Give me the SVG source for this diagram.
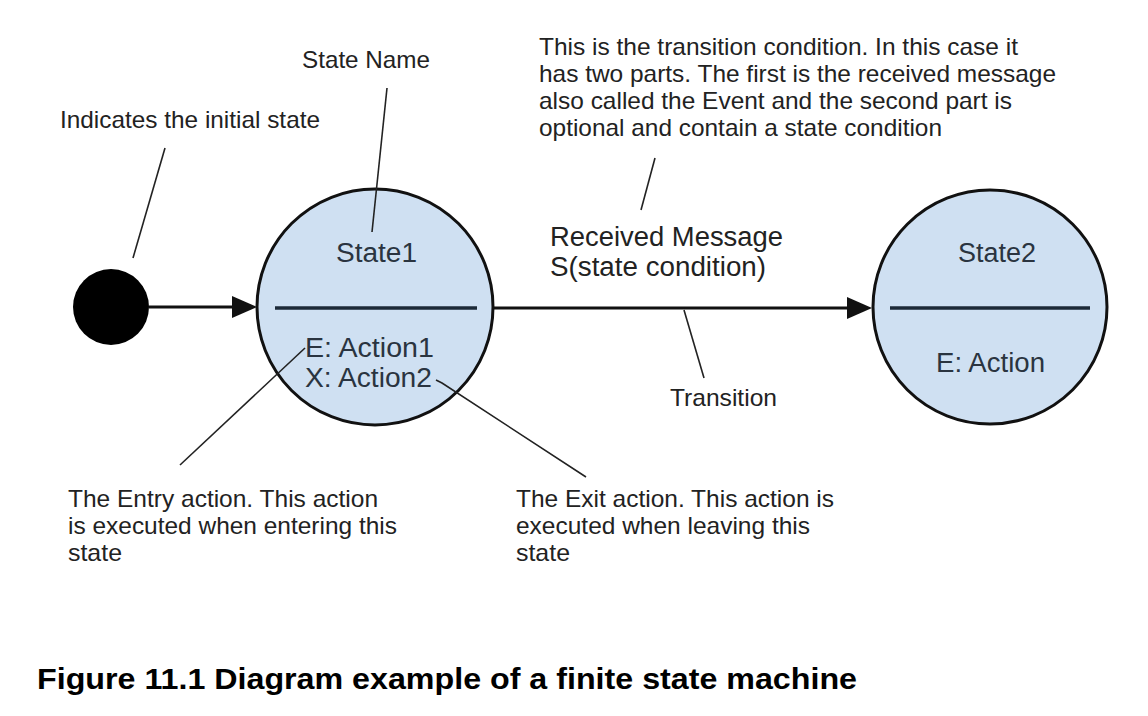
<svg xmlns="http://www.w3.org/2000/svg" width="1148" height="716" viewBox="0 0 1148 716">
<style>
.note{font-family:"Liberation Sans",Arial,sans-serif;font-size:24px;fill:#222}
.lbl{font-family:"Liberation Sans",Arial,sans-serif;font-size:27px;fill:#2a3440}
.msg{font-family:"Liberation Sans",Arial,sans-serif;font-size:27px;fill:#222}
.state{fill:#cfe0f2;stroke:#111;stroke-width:3}
.div{stroke:#1c2a38;stroke-width:3.5}
.lead{stroke:#222;stroke-width:1.6;fill:none}
.edge{stroke:#111;stroke-width:3;fill:none}
.head{fill:#111}
</style>
<rect width="1148" height="716" fill="#fff"/>
<g id="connectors">
<line class="edge" x1="149" y1="307" x2="240" y2="307"/>
<path class="head" d="M232,296 L257,307 L232,318 z"/>
<line class="edge" x1="493" y1="308" x2="855" y2="308"/>
<path class="head" d="M847,297 L872,308 L847,319 z"/>
</g>
<g id="initial">
<circle cx="111" cy="307" r="38" fill="#000"/>
</g>
<g id="state1">
<circle class="state" cx="375" cy="307" r="118"/>
<line class="div" x1="275" y1="308" x2="477" y2="308"/>
<text class="lbl" x="336" y="262" textLength="81" lengthAdjust="spacingAndGlyphs">State1</text>
<text class="lbl" x="305" y="357" textLength="129" lengthAdjust="spacingAndGlyphs">E: Action1</text>
<text class="lbl" x="305" y="387" textLength="127" lengthAdjust="spacingAndGlyphs">X: Action2</text>
</g>
<g id="state2">
<circle class="state" cx="990" cy="307" r="117"/>
<line class="div" x1="890" y1="308" x2="1090" y2="308"/>
<text class="lbl" x="958" y="262" textLength="78" lengthAdjust="spacingAndGlyphs">State2</text>
<text class="lbl" x="936" y="372" textLength="109" lengthAdjust="spacingAndGlyphs">E: Action</text>
</g>
<g id="transition-label">
<text class="msg" x="550" y="246" textLength="233" lengthAdjust="spacingAndGlyphs">Received Message</text>
<text class="msg" x="550" y="276" textLength="216" lengthAdjust="spacingAndGlyphs">S(state condition)</text>
</g>
<g id="annotations">
<line class="lead" x1="165" y1="148" x2="133" y2="258"/>
<text class="note" x="60" y="128" textLength="260" lengthAdjust="spacingAndGlyphs">Indicates the initial state</text>
<line class="lead" x1="387" y1="88" x2="372" y2="232"/>
<text class="note" x="302" y="68" textLength="128" lengthAdjust="spacingAndGlyphs">State Name</text>
<line class="lead" x1="655" y1="158" x2="641" y2="210"/>
<text class="note" x="539" y="55" textLength="479" lengthAdjust="spacingAndGlyphs">This is the transition condition. In this case it</text>
<text class="note" x="539" y="82" textLength="517" lengthAdjust="spacingAndGlyphs">has two parts. The first is the received message</text>
<text class="note" x="539" y="109" textLength="473" lengthAdjust="spacingAndGlyphs">also called the Event and the second part is</text>
<text class="note" x="539" y="136" textLength="403" lengthAdjust="spacingAndGlyphs">optional and contain a state condition</text>
<line class="lead" x1="684" y1="310" x2="704" y2="378"/>
<text class="note" x="670" y="406" textLength="107" lengthAdjust="spacingAndGlyphs">Transition</text>
<line class="lead" x1="305" y1="348" x2="180" y2="465"/>
<text class="note" x="68" y="507" textLength="310" lengthAdjust="spacingAndGlyphs">The Entry action. This action</text>
<text class="note" x="68" y="534" textLength="329" lengthAdjust="spacingAndGlyphs">is executed when entering this</text>
<text class="note" x="68" y="561" textLength="54" lengthAdjust="spacingAndGlyphs">state</text>
<path class="lead" d="M436,380 L442,383 L586,477"/>
<text class="note" x="516" y="507" textLength="318" lengthAdjust="spacingAndGlyphs">The Exit action. This action is</text>
<text class="note" x="516" y="534" textLength="294" lengthAdjust="spacingAndGlyphs">executed when leaving this</text>
<text class="note" x="516" y="561" textLength="54" lengthAdjust="spacingAndGlyphs">state</text>
</g>
<text x="37" y="689" textLength="820" lengthAdjust="spacingAndGlyphs" style="font-family:'Liberation Sans',Arial,sans-serif;font-size:30px;font-weight:bold;fill:#000">Figure 11.1 Diagram example of a finite state machine</text>
</svg>
